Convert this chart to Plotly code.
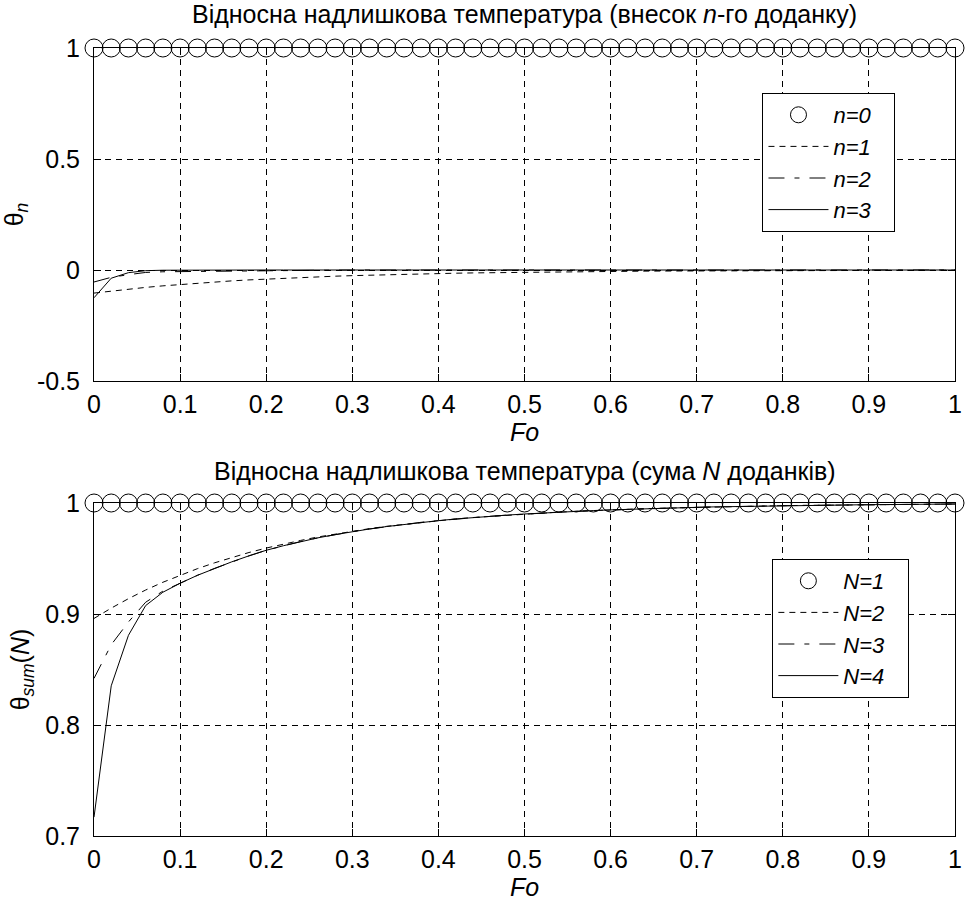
import numpy as np
import plotly.graph_objects as go

# Fourier number grid
fo = [0.00, 0.02, 0.04, 0.06, 0.08, 0.10, 0.12, 0.14, 0.16, 0.18,
      0.20, 0.22, 0.24, 0.26, 0.28, 0.30, 0.32, 0.34, 0.36, 0.38,
      0.40, 0.42, 0.44, 0.46, 0.48, 0.50, 0.52, 0.54, 0.56, 0.58,
      0.60, 0.62, 0.64, 0.66, 0.68, 0.70, 0.72, 0.74, 0.76, 0.78,
      0.80, 0.82, 0.84, 0.86, 0.88, 0.90, 0.92, 0.94, 0.96, 0.98, 1.00]

# Contribution of each series term
theta0 = [1.0, 1.0, 1.0, 1.0, 1.0, 1.0, 1.0, 1.0, 1.0, 1.0,
          1.0, 1.0, 1.0, 1.0, 1.0, 1.0, 1.0, 1.0, 1.0, 1.0,
          1.0, 1.0, 1.0, 1.0, 1.0, 1.0, 1.0, 1.0, 1.0, 1.0,
          1.0, 1.0, 1.0, 1.0, 1.0, 1.0, 1.0, 1.0, 1.0, 1.0,
          1.0, 1.0, 1.0, 1.0, 1.0, 1.0, 1.0, 1.0, 1.0, 1.0, 1.0]
theta1 = [-0.1040, -0.0947, -0.0862, -0.0784, -0.0714, -0.0650, -0.0592, -0.0539, -0.0490, -0.0446,
          -0.0406, -0.0370, -0.0337, -0.0306, -0.0279, -0.0254, -0.0231, -0.0210, -0.0192, -0.0174,
          -0.0159, -0.0144, -0.0131, -0.0120, -0.0109, -0.0099, -0.0090, -0.0082, -0.0075, -0.0068,
          -0.0062, -0.0056, -0.0051, -0.0047, -0.0043, -0.0039, -0.0035, -0.0032, -0.0029, -0.0027,
          -0.0024, -0.0022, -0.0020, -0.0018, -0.0017, -0.0015, -0.0014, -0.0013, -0.0011, -0.0010, -0.0009]
theta2 = [-0.054, -0.033, -0.021, -0.011, -0.008, -0.007, -0.006, -0.005, -0.004, -0.003,
          -0.002, -0.0015, -0.001, -0.0008, -0.0006, -0.0004, -0.0003, -0.0002, -0.0001, 0.0,
          0.0, 0.0, 0.0, 0.0, 0.0, 0.0, 0.0, 0.0, 0.0, 0.0,
          0.0, 0.0, 0.0, 0.0, 0.0, 0.0, 0.0, 0.0, 0.0, 0.0,
          0.0, 0.0, 0.0, 0.0, 0.0, 0.0, 0.0, 0.0, 0.0, 0.0, 0.0]
theta3 = [-0.125, -0.037, -0.012, -0.003, -0.001, -0.0003, 0.0, 0.0, 0.0, 0.0,
          0.0, 0.0, 0.0, 0.0, 0.0, 0.0, 0.0, 0.0, 0.0, 0.0,
          0.0, 0.0, 0.0, 0.0, 0.0, 0.0, 0.0, 0.0, 0.0, 0.0,
          0.0, 0.0, 0.0, 0.0, 0.0, 0.0, 0.0, 0.0, 0.0, 0.0,
          0.0, 0.0, 0.0, 0.0, 0.0, 0.0, 0.0, 0.0, 0.0, 0.0, 0.0]

PAD = "\u00a0\u00a0\u00a0"
term_names = ["<i>n=0</i>" + PAD, "<i>n=1</i>" + PAD, "<i>n=2</i>" + PAD, "<i>n=3</i>" + PAD]
sum_names = ["<i>N=1</i>" + PAD, "<i>N=2</i>" + PAD, "<i>N=3</i>" + PAD, "<i>N=4</i>" + PAD]

x_ticks = [0, 0.1, 0.2, 0.3, 0.4, 0.5, 0.6, 0.7, 0.8, 0.9, 1]
x_tick_text = ["0", "0.1", "0.2", "0.3", "0.4", "0.5", "0.6", "0.7", "0.8", "0.9", "1"]
y1_ticks = [-0.5, 0, 0.5, 1]
y1_tick_text = ["-0.5", "0", "0.5", "1"]
y2_ticks = [0.7, 0.8, 0.9, 1]
y2_tick_text = ["0.7", "0.8", "0.9", "1"]

# Partial sums of the series
terms = np.array([theta0, theta1, theta2, theta3])
partial_sums = np.cumsum(terms, axis=0)

FONT = "Liberation Sans, Arial, sans-serif"
FS = 25
LEG_FS = 22
dash_short = "6px,5px"
dash_dot = "16px,10px,5px,10px"
styles = [None, dash_short, dash_dot, "solid"]

fig = go.Figure()


def add_series(values, names, xaxis, yaxis, legend):
    for k in range(4):
        if k == 0:
            fig.add_trace(go.Scatter(
                x=fo, y=values[k], mode="markers", name=names[k],
                marker=dict(symbol="circle-open", size=18, color="black",
                            line=dict(width=1, color="black")),
                cliponaxis=False,
                xaxis=xaxis, yaxis=yaxis, legend=legend))
        else:
            fig.add_trace(go.Scatter(
                x=fo, y=values[k], mode="lines", name=names[k],
                line=dict(color="black", width=1, dash=styles[k]),
                xaxis=xaxis, yaxis=yaxis, legend=legend))


add_series(terms, term_names, "x", "y", "legend")
add_series(partial_sums, sum_names, "x2", "y2", "legend2")

axis_common = dict(
    showline=True, mirror="allticks", linecolor="black", linewidth=1,
    ticks="inside", ticklen=7, tickwidth=1, tickcolor="black",
    showgrid=True, gridcolor="black", gridwidth=1, griddash=dash_short,
    zeroline=False, tickfont=dict(family=FONT, size=FS, color="black"),
)
x_common = dict(axis_common, ticklabelstandoff=1)
y_common = dict(axis_common, ticklabelstandoff=8)

H_TOP = 1 - 333 / 788
H_BOT = 333 / 788

legend_common = dict(
    xanchor="right", yanchor="bottom",
    bgcolor="white", bordercolor="black", borderwidth=1,
    font=dict(family=FONT, size=LEG_FS, color="black"),
    itemwidth=60,
)

fig.update_layout(
    width=969, height=904,
    margin=dict(l=94, r=7, t=48, b=68),
    paper_bgcolor="white", plot_bgcolor="white",
    font=dict(family=FONT, size=FS, color="black"),
    xaxis=dict(x_common, domain=[0, 1], range=[0, 1], anchor="y",
               tickvals=x_ticks, ticktext=x_tick_text,
               title=dict(text="<i>Fo</i>", standoff=0,
                          font=dict(family=FONT, size=FS))),
    yaxis=dict(y_common, domain=[H_TOP, 1], range=[-0.5, 1], anchor="x",
               tickvals=y1_ticks, ticktext=y1_tick_text,
               title=dict(text="θ<sub><i>n</i></sub>", standoff=8,
                          font=dict(family=FONT, size=FS))),
    xaxis2=dict(x_common, domain=[0, 1], range=[0, 1], anchor="y2",
                tickvals=x_ticks, ticktext=x_tick_text,
                title=dict(text="<i>Fo</i>", standoff=0,
                           font=dict(family=FONT, size=FS))),
    yaxis2=dict(y_common, domain=[0, H_BOT], range=[0.7, 1], anchor="x2",
                tickvals=y2_ticks, ticktext=y2_tick_text,
                title=dict(text="θ<sub><i>sum</i></sub>(<i>N</i>)", standoff=8,
                           font=dict(family=FONT, size=FS))),
    legend=dict(legend_common, x=(902 - 94) / 868, y=(836 - 232) / 788),
    legend2=dict(legend_common, x=(916 - 94) / 868, y=(836 - 698) / 788),
    annotations=[
        dict(text="Відносна надлишкова температура (внесок <i>n</i>-го доданку)",
             x=0.5, y=(836 - 30) / 788, xref="paper", yref="paper",
             xanchor="center", yanchor="bottom", showarrow=False,
             font=dict(family=FONT, size=FS, color="black")),
        dict(text="Відносна надлишкова температура (сума <i>N</i> доданків)",
             x=0.5, y=(836 - 487) / 788, xref="paper", yref="paper",
             xanchor="center", yanchor="bottom", showarrow=False,
             font=dict(family=FONT, size=FS, color="black")),
    ],
)

fig.write_html("out.html")
